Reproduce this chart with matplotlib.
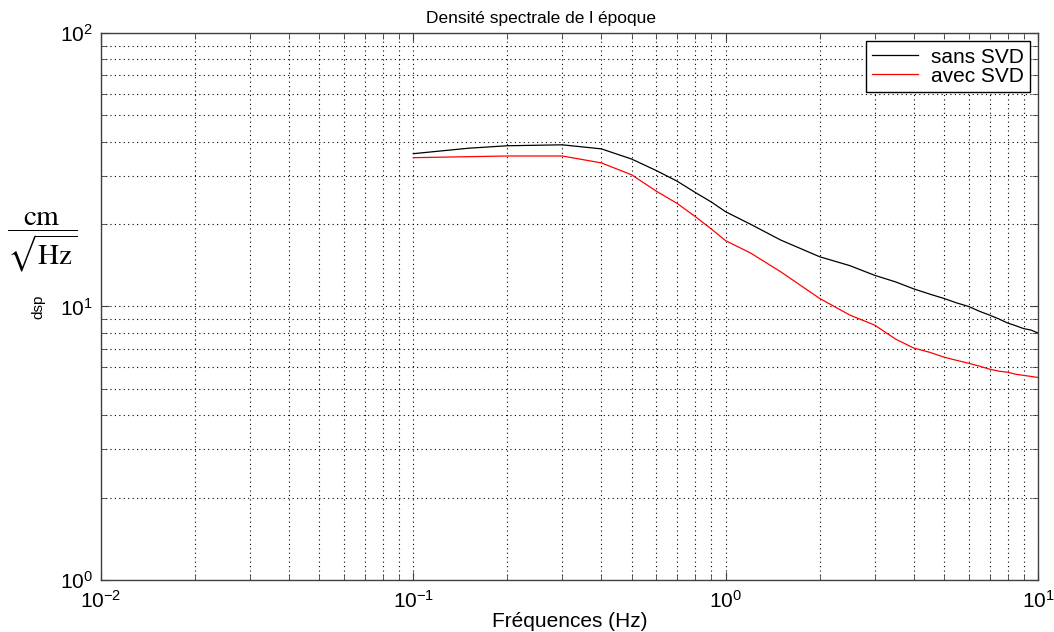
import matplotlib
matplotlib.use("Agg")
import matplotlib.pyplot as plt
from matplotlib.ticker import LogLocator, NullFormatter

# DATA
# =============================================================================
freq = [0.1, 0.15, 0.2, 0.3, 0.4, 0.5, 0.6, 0.7, 0.8, 0.9, 1.0, 1.2, 1.5,
        2.0, 2.5, 3.0, 3.5, 4.0, 4.5, 5.0, 5.5, 6.0, 6.5, 7.0, 7.5, 8.0,
        8.5, 9.0, 9.5, 10.0]
dsp_sans = [36.2, 37.9, 38.7, 39.0, 37.7, 34.6, 31.4, 28.7, 26.1, 24.1, 22.2,
            20.0, 17.5, 15.2, 14.1, 13.0, 12.3, 11.6, 11.1, 10.7, 10.3, 10.0,
            9.6, 9.3, 9.0, 8.7, 8.5, 8.3, 8.2, 8.0]
dsp_avec = [35.0, 35.3, 35.5, 35.5, 33.5, 30.3, 26.4, 23.8, 21.3, 19.2, 17.4,
            15.7, 13.4, 10.7, 9.3, 8.55, 7.6, 7.05, 6.8, 6.53, 6.35, 6.2,
            6.05, 5.9, 5.8, 5.75, 5.65, 5.6, 5.55, 5.5]
labels = ["sans SVD", "avec SVD"]
# =============================================================================

plt.rcParams['font.family'] = ['Liberation Sans', 'DejaVu Sans']
plt.rcParams['mathtext.fontset'] = 'custom'
plt.rcParams['mathtext.rm'] = 'Liberation Sans'
plt.rcParams['mathtext.default'] = 'regular'

fig = plt.figure(figsize=(10.54, 6.32), dpi=100)
ax = fig.add_axes([0.0958, 0.0823, 0.8890, 0.8655])

ax.loglog(freq, dsp_sans, color='black', lw=0.9, label=labels[0])
ax.loglog(freq, dsp_avec, color='red', lw=0.9, label=labels[1])

ax.set_xlim(1e-2, 1e1)
ax.set_ylim(1e0, 1e2)

ax.xaxis.set_major_locator(LogLocator(base=10, numticks=10))
ax.yaxis.set_major_locator(LogLocator(base=10, numticks=10))
ax.xaxis.set_minor_locator(LogLocator(base=10, subs=range(2, 10), numticks=20))
ax.yaxis.set_minor_locator(LogLocator(base=10, subs=range(2, 10), numticks=20))
ax.xaxis.set_minor_formatter(NullFormatter())
ax.yaxis.set_minor_formatter(NullFormatter())

ax.grid(True, which='both', linestyle=(0, (1, 3)), color='black', lw=0.8)
ax.tick_params(which='both', direction='in', top=True, right=True,
               labelsize=15, color='#404040')
ax.tick_params(which='major', length=6)
ax.tick_params(which='minor', length=4)
ax.tick_params(axis='x', pad=7)
ax.tick_params(axis='y', pad=6)
for s in ax.spines.values():
    s.set_color('#404040')
    s.set_linewidth(1.0)

ax.set_title("Densité spectrale de l époque", fontsize=12.5, pad=7, x=0.47)
ax.set_xlabel("Fréquences (Hz)", fontsize=15, labelpad=0)
ax.set_ylabel("dsp", fontsize=11, labelpad=10)

leg = ax.legend(loc='upper right', fontsize=15, fancybox=False, framealpha=1,
                edgecolor='black', borderpad=0.3, labelspacing=0.0,
                handlelength=2.2, handletextpad=0.6, borderaxespad=0.4)
leg.get_frame().set_linewidth(1.0)

fig.text(0.040, 0.618, r'$\dfrac{\mathrm{cm}}{\sqrt{\mathrm{Hz}}}$',
         fontsize=21, ha='center', va='center',
         math_fontfamily='stix')

fig.savefig("out.png", dpi=100)
